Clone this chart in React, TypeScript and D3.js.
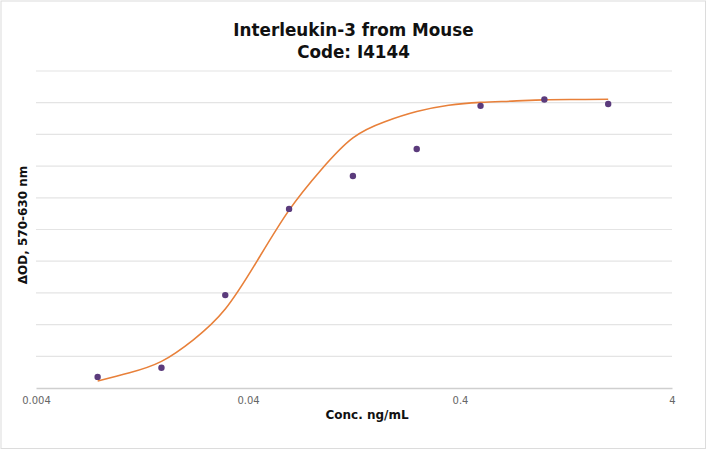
import { useRef, useEffect } from 'react'
import * as d3 from 'd3'

// measured points (2-fold dilution series)
const concentrations = [0.0078125, 0.015625, 0.03125, 0.0625, 0.125, 0.25, 0.5, 1, 2]
const measuredOD = [0.035, 0.064, 0.293, 0.565, 0.669, 0.754, 0.89, 0.91, 0.896]

// fitted curve
const fitConc = [
  0.0078125, 0.011049, 0.015625, 0.022097, 0.03125, 0.044194, 0.0625, 0.088388, 0.125,
  0.176777, 0.25, 0.353553, 0.5, 0.707107, 1, 1.414214, 2,
]
const fitOD = [
  0.022, 0.048, 0.084, 0.152, 0.249, 0.401, 0.561, 0.688, 0.789, 0.84, 0.872, 0.892, 0.901,
  0.905, 0.909, 0.91, 0.911,
]

const xTicks = [0.004, 0.04, 0.4, 4]
const xTickLabels = ['0.004', '0.04', '0.4', '4']

const FONT = "'DejaVu Sans', Verdana, sans-serif"

export default function App() {
  const svgRef = useRef<SVGSVGElement>(null)

  useEffect(() => {
    document.body.style.margin = '0'
    if (!svgRef.current) return
    const width = 707
    const height = 450
    const svg = d3.select(svgRef.current)
    svg.selectAll('*').remove()
    svg.attr('width', width).attr('height', height)

    const margin = { top: 71, right: 35, bottom: 62, left: 36 }
    const w = width - margin.left - margin.right
    const h = height - margin.top - margin.bottom

    svg.append('rect')
      .attr('x', 1).attr('y', 1)
      .attr('width', width - 2.5).attr('height', height - 2.5)
      .attr('fill', '#fff')
      .attr('stroke', '#dcdcdc')

    const g = svg.append('g').attr('transform', `translate(${margin.left},${margin.top})`)

    const x = d3.scaleLog().domain([0.004, 4]).range([0, w])
    const y = d3.scaleLinear().domain([0, 1]).range([h, 0])

    // horizontal grid
    g.selectAll('.grid')
      .data(y.ticks(10).filter(t => t > 0))
      .join('line')
      .attr('class', 'grid')
      .attr('x1', 0).attr('x2', w)
      .attr('y1', d => y(d)).attr('y2', d => y(d))
      .attr('stroke', '#e4e4e4')
      .attr('stroke-width', 1.2)

    // x axis
    const xAxis = g.append('g')
      .attr('transform', `translate(0,${h})`)
      .call(d3.axisBottom(x).tickValues(xTicks).tickSize(0).tickPadding(9)
        .tickFormat((_, i) => xTickLabels[i]))
    xAxis.select('.domain').attr('stroke', '#cfcfcf').attr('stroke-width', 1.5)
    xAxis.selectAll('text')
      .attr('fill', '#666')
      .attr('font-size', '10px')
      .attr('font-family', FONT)

    // fitted curve
    const line = d3.line<number>()
      .x((_, i) => x(fitConc[i]))
      .y(d => y(d))
      .curve(d3.curveNatural)
    g.append('path')
      .datum(fitOD)
      .attr('d', line)
      .attr('fill', 'none')
      .attr('stroke', '#e8803a')
      .attr('stroke-width', 1.6)

    // points
    g.selectAll('.pt')
      .data(measuredOD)
      .join('circle')
      .attr('class', 'pt')
      .attr('cx', (_, i) => x(concentrations[i]))
      .attr('cy', d => y(d))
      .attr('r', 3.2)
      .attr('fill', '#5b3b7c')

    // titles
    const title = svg.append('text')
      .attr('text-anchor', 'middle')
      .attr('font-family', FONT)
      .attr('font-weight', 'bold')
      .attr('font-size', '16.8px')
      .attr('fill', '#111')
    title.append('tspan').attr('x', 353.5).attr('y', 36).text('Interleukin-3 from Mouse')
    title.append('tspan').attr('x', 353.5).attr('y', 57.5).text('Code: I4144')

    svg.append('text')
      .attr('x', 367).attr('y', 419)
      .attr('text-anchor', 'middle')
      .attr('font-family', FONT)
      .attr('font-weight', 'bold')
      .attr('font-size', '12px')
      .attr('fill', '#111')
      .text('Conc. ng/mL')

    svg.append('text')
      .attr('transform', 'translate(27,225) rotate(-90)')
      .attr('text-anchor', 'middle')
      .attr('font-family', FONT)
      .attr('font-weight', 'bold')
      .attr('font-size', '12px')
      .attr('fill', '#111')
      .text('ΔOD, 570-630 nm')
  }, [])

  return <svg ref={svgRef} style={{ display: 'block' }} />
}
